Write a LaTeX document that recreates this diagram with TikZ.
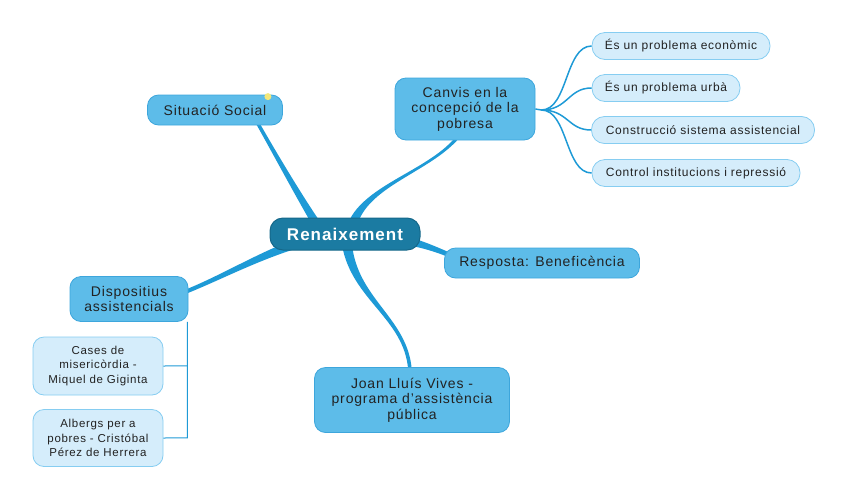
\documentclass[tikz,border=0pt]{standalone}
\usepackage{fontspec}
\setmainfont{Liberation Sans}[LetterSpace=6]
\usetikzlibrary{calc}
\definecolor{linec}{HTML}{1E9AD6}
\definecolor{topicf}{HTML}{5DBCE9}
\definecolor{topicd}{HTML}{3DA6DC}
\definecolor{centf}{HTML}{1B7BA2}
\definecolor{centd}{HTML}{15688A}
\definecolor{leaff}{HTML}{D5EDFB}
\definecolor{leafd}{HTML}{86CDF1}
\definecolor{textc}{HTML}{222222}
\definecolor{dotc}{HTML}{F3E77A}
% tapered branch, widths offset along x
\newcommand\mytaperx[6]{%
  \fill[linec] ($(#1)+(#5,0)$) .. controls ($(#2)+({(#5+#6)/2},0)$) and ($(#3)+(#6,0)$) .. ($(#4)+(#6,0)$)
    -- ($(#4)-(#6,0)$) .. controls ($(#3)-(#6,0)$) and ($(#2)-({(#5+#6)/2},0)$) .. ($(#1)-(#5,0)$) -- cycle;}
% tapered branch, widths offset along y
\newcommand\mytapery[6]{%
  \fill[linec] ($(#1)+(0,#5)$) .. controls ($(#2)+(0,{(#5+#6)/2})$) and ($(#3)+(0,#6)$) .. ($(#4)+(0,#6)$)
    -- ($(#4)-(0,#6)$) .. controls ($(#3)-(0,#6)$) and ($(#2)-(0,{(#5+#6)/2})$) .. ($(#1)-(0,#5)$) -- cycle;}
\begin{document}
\begin{tikzpicture}[x=1pt,y=-1pt,
  center/.style={draw=centd,line width=1pt,fill=centf,rounded corners=13pt,text=white,font=\bfseries\fontsize{17}{19}\selectfont,minimum width=150pt,minimum height=32pt,inner sep=2pt},
  topic/.style={draw=topicd,line width=0.8pt,fill=topicf,rounded corners=11pt,text=textc,font=\fontsize{14}{15.5}\selectfont,align=center,inner sep=2pt},
  leaf/.style={draw=leafd,line width=0.8pt,fill=leaff,rounded corners=13pt,text=textc,font=\fontsize{12}{13}\selectfont,align=center,inner sep=2pt,minimum height=27pt},
  sub/.style={draw=leafd,line width=0.8pt,fill=leaff,rounded corners=11pt,text=textc,font=\fontsize{11.5}{14.5}\selectfont,align=center,inner sep=2pt,minimum width=130pt},
  subbr/.style={draw=linec,line width=1.5pt},
  brack/.style={draw=linec,line width=1pt}
]
\useasboundingbox (0,0) rectangle (848,501);

% node positions (coordinates first so that connectors lie beneath nodes)
\coordinate (cpos) at (345,234);
\coordinate (sitpos) at (215,110);
\coordinate (canpos) at (465,109);
\coordinate (respos) at (542,263);
\coordinate (joapos) at (412,400);
\coordinate (dispos) at (129,299);

% main tapered branches (from centre to topics)
\coordinate (a1) at ($(cpos)+(-27,-8)$);
\coordinate (b1) at ($(sitpos)+(42,12)$);
\mytaperx{a1}{300,198}{274,152}{b1}{5}{2}
\coordinate (a2) at ($(cpos)+(7,-8)$);
\coordinate (b2) at ($(canpos)+(-8,29)$);
\mytaperx{a2}{364,186}{428,172}{b2}{5}{2.2}
\coordinate (a3) at ($(cpos)+(67,8)$);
\coordinate (b3) at ($(respos)+(-90,-7)$);
\mytapery{a3}{428,246}{440,251}{b3}{4}{2.5}
\coordinate (a4) at ($(cpos)+(2,11)$);
\coordinate (b4) at ($(joapos)+(-2,-30)$);
\mytaperx{a4}{355,300}{406,318}{b4}{5}{1.8}
\coordinate (a5) at ($(cpos)+(-50,10)$);
\coordinate (b5) at ($(dispos)+(56,-7)$);
\mytapery{a5}{255,258}{220,278}{b5}{5}{2.2}

% nodes
\node[center] (c) at (cpos) {Renaixement};
\node[topic,minimum width=135pt,minimum height=30pt] (sit) at (sitpos) {Situació Social};
\node[topic,minimum width=140pt,minimum height=62pt] (can) at (canpos) {Canvis en la\\concepció de la\\pobresa};
\node[topic,minimum width=195pt,minimum height=30pt] (res) at (respos) {Resposta: Beneficència};
\node[topic,minimum width=195pt,minimum height=65pt] (joa) at (joapos) {Joan Lluís Vives -\\programa d'assistència\\pública};
\node[topic,minimum width=118pt,minimum height=45pt] (dis) at (dispos) {Dispositius\\assistencials};

% bracket to sub-topics
\coordinate (bt) at ($(dis.south east)+(-1,0)$);
\coordinate (bx) at ($(bt)+(0,116)$);
\coordinate (bm) at ($(bt)+(0,44)$);
\node[sub,minimum height=58pt] (cas) at (98,366) {Cases de\\misericòrdia -\\Miquel de Giginta};
\node[sub,minimum height=57pt] (alb) at (98,438) {Albergs per a\\pobres - Cristóbal\\Pérez de Herrera};
\draw[brack] (bt) -- (bx) -- (alb.east);
\draw[brack] (cas.east) -- (bm);

% leaves of Canvis
\node[leaf,minimum width=178pt] (l1) at (681,46) {És un problema econòmic};
\node[leaf,minimum width=148pt] (l2) at (666,88) {És un problema urbà};
\node[leaf,minimum width=223pt] (l3) at (703,130) {Construcció sistema assistencial};
\node[leaf,minimum width=208pt] (l4) at (696,173) {Control institucions i repressió};
\coordinate (cr) at ($(can.east)+(6,1)$);
\draw[subbr] (can.east) -- (cr);
\draw[subbr] (cr) .. controls (568,110) and (565,46) .. (l1.west);
\draw[subbr] (cr) .. controls (568,110) and (568,88) .. (l2.west);
\draw[subbr] (cr) .. controls (568,110) and (568,130) .. (l3.west);
\draw[subbr] (cr) .. controls (568,110) and (565,173) .. (l4.west);

% small marker on Situació Social
\fill[dotc] ($(sit.north east)+(-15,2)$) circle (3.5pt);
\end{tikzpicture}
\end{document}
